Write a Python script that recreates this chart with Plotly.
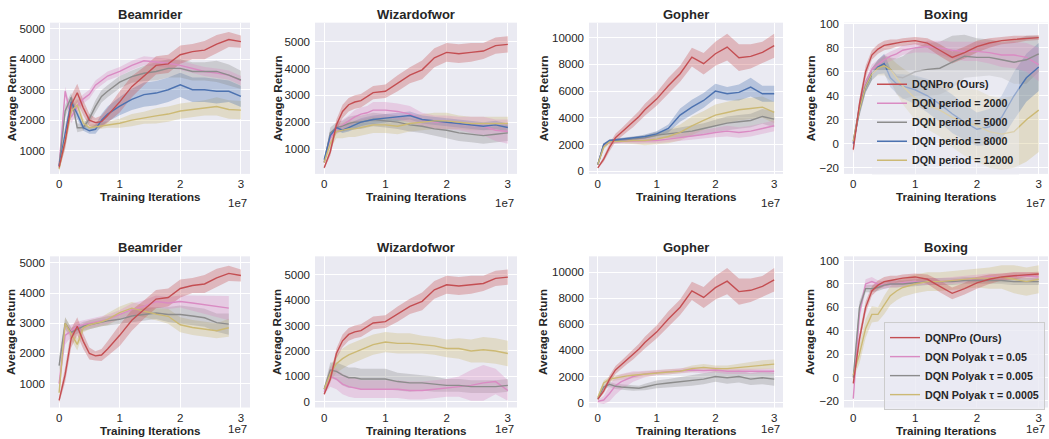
import plotly.graph_objects as go

# ---------------- data (iterations in units of 1e6) ----------------
ITERS_1E6 = [0, 1, 2, 3, 4, 5, 6, 7, 8, 10, 12, 14, 16, 18, 20, 22, 24, 26, 28, 30]
GAMES = ["Beamrider", "Wizardofwor", "Gopher", "Boxing"]
ROW1_LABELS = ["DQNPro (Ours)", "DQN period = 2000", "DQN period = 5000",
               "DQN period = 8000", "DQN period = 12000"]
ROW2_LABELS = ["DQNPro (Ours)", "DQN Polyak τ = 0.05", "DQN Polyak τ = 0.005",
               "DQN Polyak τ = 0.0005"]
X_TICKS = [0, 1, 2, 3]
Y_TICKS_BEAM = [1000, 2000, 3000, 4000, 5000]
Y_TICKS_WIZ1 = [1000, 2000, 3000, 4000, 5000]
Y_TICKS_WIZ2 = [0, 1000, 2000, 3000, 4000, 5000]
Y_TICKS_GOPH = [0, 2000, 4000, 6000, 8000, 10000]
Y_TICKS_BOX = [-20, 0, 20, 40, 60, 80, 100]

# DQNPro (shared by both rows)
beam_pro = [450, 1300, 2500, 2900, 2400, 2000, 1920, 1950, 2150, 2600, 3100, 3450, 3800, 3850, 4150, 4250, 4300, 4500, 4650, 4580]
beam_pro_sd = [100, 250, 300, 300, 250, 200, 150, 200, 250, 350, 350, 300, 300, 300, 300, 250, 300, 300, 250, 200]
wiz_pro = [300, 900, 1900, 2400, 2650, 2750, 2800, 2950, 3100, 3150, 3450, 3750, 3950, 4400, 4600, 4550, 4600, 4650, 4850, 4900]
wiz_pro_sd = [50, 150, 200, 250, 250, 250, 250, 250, 250, 250, 300, 300, 350, 350, 350, 350, 350, 300, 300, 300]
goph_pro = [250, 900, 1800, 2500, 2900, 3300, 3700, 4100, 4600, 5400, 6400, 7300, 8550, 8050, 8800, 9300, 8500, 8600, 8900, 9400]
goph_pro_sd = [50, 200, 300, 300, 300, 350, 400, 400, 450, 500, 600, 600, 700, 800, 900, 1000, 1000, 900, 800, 900]
box_pro = [-5, 33, 60, 74, 79, 82, 83, 84, 85, 86, 84, 78, 72, 76, 81, 84, 86, 87, 88, 88.5]
box_pro_sd = [3, 5, 5, 4, 4, 4, 4, 3, 3, 3, 4, 5, 5, 5, 5, 4, 3, 3, 2, 2]

# Row 1: DQN with target update period
beam_p2000 = [500, 2950, 2100, 2450, 2700, 2850, 3150, 3300, 3450, 3600, 3800, 3950, 3920, 3870, 3800, 3700, 3600, 3550, 3480, 3300]
beam_p2000_sd = [100, 150, 200, 200, 150, 150, 150, 150, 150, 150, 150, 150, 150, 150, 150, 150, 150, 150, 150, 150]
beam_p5000 = [500, 2300, 2750, 1750, 1750, 2050, 2450, 2780, 2950, 3250, 3430, 3540, 3600, 3700, 3700, 3600, 3600, 3600, 3480, 3320]
beam_p5000_sd = [100, 200, 150, 150, 100, 150, 200, 200, 200, 200, 200, 250, 300, 300, 300, 300, 300, 350, 350, 300]
beam_p8000 = [500, 1600, 2600, 2200, 1750, 1650, 1700, 2000, 2200, 2460, 2680, 2840, 2890, 3000, 3160, 3000, 3000, 2950, 2950, 2780]
beam_p8000_sd = [100, 200, 200, 150, 100, 100, 150, 200, 250, 300, 350, 400, 400, 400, 400, 400, 400, 400, 350, 350]
beam_p12000 = [400, 1300, 2300, 2500, 1900, 1750, 1780, 1820, 1850, 1900, 2000, 2080, 2140, 2200, 2300, 2350, 2400, 2450, 2350, 2330]
beam_p12000_sd = [100, 200, 200, 200, 150, 100, 100, 100, 100, 150, 200, 200, 250, 250, 250, 250, 250, 300, 300, 300]

wiz_p2000 = [500, 1400, 1750, 1900, 2050, 2200, 2300, 2350, 2450, 2450, 2400, 2300, 2100, 2000, 2000, 1950, 1900, 1850, 1700, 1650]
wiz_p2000_sd = [50, 150, 200, 200, 200, 250, 250, 250, 300, 300, 300, 300, 250, 250, 250, 250, 300, 350, 400, 450]
wiz_p5000 = [500, 1600, 1800, 1850, 1950, 2000, 2000, 2050, 2100, 2050, 2000, 1900, 1850, 1750, 1700, 1600, 1550, 1500, 1550, 1600]
wiz_p5000_sd = [50, 200, 200, 200, 250, 250, 250, 250, 250, 250, 250, 250, 250, 250, 300, 300, 300, 300, 300, 300]
wiz_p8000 = [600, 1500, 1800, 1700, 1800, 1900, 2000, 2050, 2100, 2150, 2200, 2250, 2100, 2050, 2000, 1950, 1900, 1850, 1900, 1800]
wiz_p8000_sd = [50, 100, 100, 100, 150, 150, 150, 150, 150, 150, 150, 150, 150, 150, 150, 150, 150, 150, 150, 150]
wiz_p12000 = [500, 1200, 1650, 1700, 1750, 1750, 1800, 1850, 1900, 1900, 1850, 1950, 2000, 2050, 2050, 2000, 1950, 1950, 1950, 1950]
wiz_p12000_sd = [50, 200, 250, 300, 300, 300, 300, 300, 300, 300, 300, 300, 300, 300, 300, 250, 250, 250, 250, 250]

goph_p2000 = [500, 1900, 2150, 2200, 2200, 2250, 2250, 2250, 2300, 2300, 2400, 2500, 2650, 2750, 2900, 3000, 2900, 3000, 3200, 3400]
goph_p2000_sd = [50, 100, 100, 100, 150, 150, 150, 200, 200, 200, 250, 250, 300, 300, 350, 400, 400, 400, 400, 400]
goph_p5000 = [500, 2000, 2250, 2300, 2350, 2400, 2400, 2450, 2500, 2700, 2800, 2900, 3000, 3200, 3400, 3600, 3700, 3800, 4100, 3900]
goph_p5000_sd = [50, 100, 100, 100, 100, 150, 150, 200, 200, 250, 300, 350, 400, 400, 450, 500, 500, 500, 550, 600]
goph_p8000 = [500, 2000, 2300, 2350, 2400, 2400, 2450, 2500, 2600, 2800, 3200, 4200, 4800, 5300, 6000, 5800, 5900, 6300, 5800, 5800]
goph_p8000_sd = [50, 100, 100, 100, 100, 100, 150, 150, 150, 200, 300, 500, 550, 550, 550, 500, 600, 700, 600, 600]
goph_p12000 = [500, 1800, 2200, 2200, 2250, 2250, 2300, 2300, 2300, 2400, 2600, 2900, 3400, 3800, 4200, 4400, 4600, 4700, 4800, 4400]
goph_p12000_sd = [50, 150, 150, 150, 150, 200, 250, 300, 350, 400, 500, 600, 700, 700, 800, 800, 800, 800, 800, 800]

box_p2000 = [0, 30, 50, 62, 66, 70, 73, 75, 78, 80, 81, 80, 78, 77, 77, 76, 74, 74, 72, 66]
box_p2000_sd = [3, 4, 4, 4, 4, 4, 4, 4, 4, 4, 5, 6, 7, 8, 8, 9, 10, 11, 12, 14]
box_p5000 = [2, 30, 48, 58, 64, 66, 62, 56, 55, 60, 62, 63, 68, 73, 72, 72, 70, 68, 70, 75]
box_p5000_sd = [3, 5, 5, 5, 6, 8, 10, 15, 18, 20, 22, 22, 22, 18, 16, 15, 15, 18, 20, 15]
box_p8000 = [0, 28, 48, 58, 64, 67, 55, 50, 48, 45, 40, 33, 25, 18, 12, 14, 22, 40, 55, 64]
box_p8000_sd = [3, 5, 5, 5, 6, 8, 8, 8, 10, 12, 14, 15, 16, 15, 14, 15, 18, 20, 20, 20]
box_p12000 = [2, 28, 48, 58, 63, 65, 62, 55, 48, 38, 32, 28, 22, 18, 15, 10, 8, 10, 20, 28]
box_p12000_sd = [3, 5, 5, 5, 6, 8, 10, 12, 15, 18, 20, 22, 25, 28, 30, 30, 30, 30, 35, 35]

# Row 2: DQN with Polyak averaging (Beamrider runs stop at 2.8e7)
beam_t05 = [1000, 2600, 2750, 2900, 2950, 3000, 3050, 3080, 3130, 3290, 3450, 3560, 3720, 3670, 3720, 3670, 3620, 3560, 3500]
beam_t05_sd = [300, 300, 200, 150, 150, 150, 150, 150, 150, 150, 200, 200, 200, 200, 200, 250, 300, 350, 400]
beam_t005 = [1600, 3000, 2700, 2800, 2900, 2950, 3000, 3050, 3080, 3130, 3240, 3290, 3340, 3290, 3290, 3240, 3180, 3020, 2970]
beam_t005_sd = [300, 200, 150, 150, 150, 150, 150, 150, 150, 150, 200, 200, 200, 250, 300, 300, 300, 300, 350]
beam_t0005 = [700, 3000, 2650, 2300, 2850, 2950, 3000, 3050, 3130, 3350, 3500, 3400, 3300, 3230, 2950, 2860, 2800, 2750, 2850]
beam_t0005_sd = [300, 200, 200, 200, 150, 150, 150, 150, 200, 200, 200, 200, 200, 250, 250, 250, 250, 250, 300]

wiz_t05 = [400, 1000, 900, 700, 600, 550, 500, 500, 500, 500, 500, 450, 450, 500, 550, 600, 650, 750, 800, 450]
wiz_t05_sd = [100, 400, 400, 400, 400, 400, 350, 350, 350, 350, 350, 350, 350, 350, 350, 400, 600, 700, 500, 400]
wiz_t005 = [500, 1250, 1200, 1050, 950, 950, 900, 900, 900, 900, 800, 750, 750, 700, 650, 650, 600, 600, 600, 650]
wiz_t005_sd = [100, 300, 350, 400, 400, 400, 400, 400, 400, 400, 350, 350, 300, 300, 250, 250, 250, 250, 250, 250]
wiz_t0005 = [500, 1100, 1500, 1700, 1850, 1950, 2050, 2150, 2250, 2350, 2300, 2300, 2250, 2200, 2100, 2100, 2000, 2050, 2000, 1900]
wiz_t0005_sd = [100, 300, 350, 400, 400, 400, 400, 400, 400, 400, 400, 400, 350, 350, 350, 400, 450, 500, 500, 500]

goph_t05 = [100, 200, 700, 1300, 1600, 1800, 2000, 2100, 2200, 2300, 2350, 2450, 2500, 2450, 2500, 2400, 2400, 2400, 2450, 2400]
goph_t05_sd = [100, 300, 600, 700, 600, 500, 400, 300, 250, 200, 200, 200, 200, 200, 200, 200, 200, 200, 200, 200]
goph_t005 = [300, 1200, 1400, 1250, 1200, 1150, 1100, 1100, 1200, 1400, 1500, 1600, 1700, 1800, 2000, 1900, 2000, 1800, 1900, 1800]
goph_t005_sd = [100, 150, 200, 200, 200, 200, 200, 200, 250, 300, 300, 350, 400, 400, 400, 450, 450, 450, 500, 500]
goph_t0005 = [400, 1500, 1800, 1900, 2000, 2050, 2100, 2150, 2200, 2300, 2350, 2400, 2600, 2700, 2600, 2600, 2700, 2800, 2900, 2950]
goph_t0005_sd = [100, 200, 200, 200, 200, 200, 200, 200, 200, 200, 200, 200, 250, 250, 250, 250, 300, 300, 350, 350]

box_t05 = [-18, 55, 80, 82, 80, 79, 80, 80, 81, 82, 82, 82, 83, 84, 85, 86, 86, 87, 87, 86]
box_t05_sd = [3, 6, 4, 4, 3, 3, 3, 3, 3, 3, 3, 3, 3, 3, 3, 3, 3, 3, 3, 3]
box_t005 = [0, 60, 76, 76, 77, 79, 80, 80, 80, 81, 82, 82, 82, 83, 83, 83, 83, 82, 82, 82]
box_t005_sd = [3, 5, 3, 3, 3, 3, 3, 3, 3, 3, 3, 3, 3, 3, 3, 3, 3, 3, 3, 3]
box_t0005 = [2, 20, 42, 54, 54, 62, 70, 74, 77, 80, 82, 82, 83, 84, 85, 85, 86, 84, 82, 84]
box_t0005_sd = [3, 8, 8, 7, 6, 8, 8, 8, 8, 8, 8, 8, 8, 8, 8, 9, 10, 12, 12, 12]

# ---------------- styling ----------------
W, H = 1049, 439
FONT = "Liberation Sans, Arial, sans-serif"
TXT = "#262626"
RED, PINK, GRAY, BLUE, YELLOW = "#C44E52", "#DA8BC3", "#8C8C8C", "#4C72B0", "#CCB974"
ROW1_COLORS = [RED, PINK, GRAY, BLUE, YELLOW]
ROW2_COLORS = [RED, PINK, GRAY, YELLOW]

COL_PX = [(50, 250), (315, 517), (589, 783), (844, 1048)]
ROW_PX = [(18, 172), (256, 410)]
YTITLE_X = [11, 277, 543, 810]


def fx(px):
    return px / W


def fy(py):
    return 1 - py / H


def rgba(hexc, a):
    h = hexc.lstrip("#")
    return "rgba(%d,%d,%d,%.2f)" % (int(h[0:2], 16), int(h[2:4], 16), int(h[4:6], 16), a)


panels = [
    # row, col, series list [(mean, sd)], y-range, y-ticks
    (0, 0, [(beam_pro, beam_pro_sd), (beam_p2000, beam_p2000_sd), (beam_p5000, beam_p5000_sd),
            (beam_p8000, beam_p8000_sd), (beam_p12000, beam_p12000_sd)], [235, 5203], Y_TICKS_BEAM),
    (0, 1, [(wiz_pro, wiz_pro_sd), (wiz_p2000, wiz_p2000_sd), (wiz_p5000, wiz_p5000_sd),
            (wiz_p8000, wiz_p8000_sd), (wiz_p12000, wiz_p12000_sd)], [74, 5707], Y_TICKS_WIZ1),
    (0, 2, [(goph_pro, goph_pro_sd), (goph_p2000, goph_p2000_sd), (goph_p5000, goph_p5000_sd),
            (goph_p8000, goph_p8000_sd), (goph_p12000, goph_p12000_sd)], [-200, 11125], Y_TICKS_GOPH),
    (0, 3, [(box_pro, box_pro_sd), (box_p2000, box_p2000_sd), (box_p5000, box_p5000_sd),
            (box_p8000, box_p8000_sd), (box_p12000, box_p12000_sd)], [-25.2, 101], Y_TICKS_BOX),
    (1, 0, [(beam_pro, beam_pro_sd), (beam_t05, beam_t05_sd), (beam_t005, beam_t005_sd),
            (beam_t0005, beam_t0005_sd)], [211, 5214], Y_TICKS_BEAM),
    (1, 1, [(wiz_pro, wiz_pro_sd), (wiz_t05, wiz_t05_sd), (wiz_t005, wiz_t005_sd),
            (wiz_t0005, wiz_t0005_sd)], [-219, 5715], Y_TICKS_WIZ2),
    (1, 2, [(goph_pro, goph_pro_sd), (goph_t05, goph_t05_sd), (goph_t005, goph_t005_sd),
            (goph_t0005, goph_t0005_sd)], [-375, 11200], Y_TICKS_GOPH),
    (1, 3, [(box_pro, box_pro_sd), (box_t05, box_t05_sd), (box_t005, box_t005_sd),
            (box_t0005, box_t0005_sd)], [-25.6, 103.6], Y_TICKS_BOX),
]

fig = go.Figure()
annotations = []
layout_axes = {}

for i, (row, col, series, yrange, yticks) in enumerate(panels):
    n = i + 1
    xa = "x" if n == 1 else "x%d" % n
    ya = "y" if n == 1 else "y%d" % n
    colors = ROW1_COLORS if row == 0 else ROW2_COLORS
    labels = ROW1_LABELS if row == 0 else ROW2_LABELS
    legend_name = "legend" if row == 0 else "legend2"
    is_legend_panel = (col == 3)

    # bands first (drawn in reverse so DQNPro band sits on top)
    for k in reversed(range(len(series))):
        mean, sd = series[k]
        xs = [v * 1e6 for v in ITERS_1E6[:len(mean)]]
        upper = [m + s for m, s in zip(mean, sd)]
        lower = [m - s for m, s in zip(mean, sd)]
        fig.add_trace(go.Scatter(
            x=xs + xs[::-1], y=upper + lower[::-1], fill="toself",
            fillcolor=rgba(colors[k], 0.33), line=dict(width=0), mode="lines",
            hoverinfo="skip", showlegend=False, xaxis=xa, yaxis=ya))
    # lines: others first, DQNPro last; legend order kept via legendrank
    order = list(range(1, len(series))) + [0]
    for k in order:
        mean, sd = series[k]
        xs = [v * 1e6 for v in ITERS_1E6[:len(mean)]]
        fig.add_trace(go.Scatter(
            x=xs, y=mean, mode="lines", name=labels[k],
            line=dict(color=colors[k], width=1.4),
            showlegend=is_legend_panel, legend=legend_name, legendrank=k + 1,
            xaxis=xa, yaxis=ya))

    x0, x1 = COL_PX[col]
    y0, y1 = ROW_PX[row]
    axis_common = dict(showgrid=True, gridcolor="white", gridwidth=1, zeroline=False,
                       showline=False, ticks="", tickfont=dict(family=FONT, size=11.5, color=TXT))
    layout_axes["xaxis" if n == 1 else "xaxis%d" % n] = dict(
        domain=[fx(x0), fx(x1)], anchor=ya, range=[-1.5e6, 31.5e6],
        tickvals=[t * 1e7 for t in X_TICKS], ticktext=[str(t) for t in X_TICKS],
        ticklabelstandoff=2, **axis_common)
    layout_axes["yaxis" if n == 1 else "yaxis%d" % n] = dict(
        domain=[fy(y1), fy(y0)], anchor=xa, range=yrange, tickvals=yticks,
        tickformat="d", ticklabelstandoff=4, **axis_common)

    cx = (x0 + x1) / 2
    # subplot title
    annotations.append(dict(text="<b>%s</b>" % GAMES[col], x=fx(cx), y=fy(y0 - 8.5),
                            xref="paper", yref="paper", showarrow=False,
                            font=dict(family=FONT, size=13, color=TXT),
                            xanchor="center", yanchor="middle"))
    # x-axis title
    annotations.append(dict(text="<b>Training Iterations</b>", x=fx(cx),
                            y=fy(y1 + 23),
                            xref="paper", yref="paper", showarrow=False,
                            font=dict(family=FONT, size=11.6, color=TXT),
                            xanchor="center", yanchor="middle"))
    # offset text
    annotations.append(dict(text="1e7", x=fx(x1 - 1), y=fy(y1 + (29.5 if row == 0 else 21.5)),
                            xref="paper", yref="paper", showarrow=False,
                            font=dict(family=FONT, size=11.5, color=TXT),
                            xanchor="right", yanchor="middle"))
    # y-axis title
    annotations.append(dict(text="<b>Average Return</b>", x=fx(YTITLE_X[col]),
                            y=fy((y0 + y1) / 2), xref="paper", yref="paper",
                            showarrow=False, textangle=-90,
                            font=dict(family=FONT, size=11.6, color=TXT),
                            xanchor="center", yanchor="middle"))

fig.update_layout(
    width=W, height=H, margin=dict(l=0, r=0, t=0, b=0),
    paper_bgcolor="white", plot_bgcolor="#EAEAF2",
    font=dict(family=FONT, color=TXT),
    annotations=annotations,
    legend=dict(x=fx(872), y=fy(66), xanchor="left", yanchor="top",
                bgcolor="rgba(234,234,242,0.45)", borderwidth=0,
                font=dict(family=FONT, size=10.7, color=TXT, weight="bold"),
                itemwidth=30, tracegroupgap=0),
    legend2=dict(x=fx(884), y=fy(323), xanchor="left", yanchor="top",
                 bgcolor="rgba(234,234,242,0.8)", bordercolor="#CCCCCC", borderwidth=1,
                 font=dict(family=FONT, size=10.7, color=TXT, weight="bold"),
                 itemwidth=30, tracegroupgap=0),
    showlegend=True,
    **layout_axes,
)

fig.write_html("out.html")
